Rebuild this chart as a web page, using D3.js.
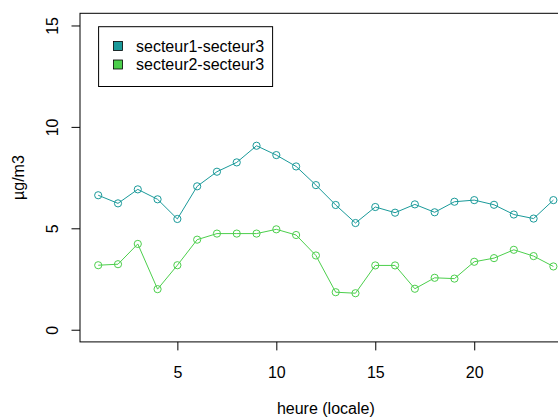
<!DOCTYPE html>
<html>
<head>
<meta charset="utf-8">
<script src="https://cdn.jsdelivr.net/npm/d3@7"></script>
<style>
  body { margin: 0; background: #fff; }
  svg { display: block; font-family: "Liberation Sans", Arial, sans-serif; }
</style>
</head>
<body>
<svg id="chart"></svg>
<script>
// heures (locale)
const heures = d3.range(1, 25)
const secteur13 = [6.63, 6.23, 6.92, 6.43, 5.46, 7.07, 7.79, 8.25, 9.07, 8.61, 8.05, 7.13,
                   6.15, 5.26, 6.05, 5.77, 6.18, 5.79, 6.31, 6.39, 6.16, 5.68, 5.48, 6.39]
const secteur23 = [3.18, 3.23, 4.23, 2.00, 3.18, 4.44, 4.74, 4.74, 4.74, 4.95, 4.67, 3.66,
                   1.85, 1.80, 3.17, 3.17, 2.02, 2.56, 2.52, 3.35, 3.53, 3.94, 3.63, 3.12]
const xTicks = [5, 10, 15, 20]
const yTicks = [0, 5, 10, 15]
const seriesNames = ["secteur1-secteur3", "secteur2-secteur3"]
const colors = ["#1A9A9A", "#4CCF4C"]

const width = 558, height = 419
const plot = { left: 80, right: 571.6, top: 13.3, bottom: 341.9 }

const svg = d3.select("#chart")
    .attr("width", width)
    .attr("height", height)
    .attr("viewBox", [0, 0, width, height])

// R style: 4% extension of the data range
const x = d3.scaleLinear()
    .domain([1 - 23 * 0.04, 24 + 23 * 0.04])
    .range([plot.left, plot.right])
const y = d3.scaleLinear()
    .domain([-15 * 0.04, 15 + 15 * 0.04])
    .range([plot.bottom, plot.top])

const line = d3.line()
    .x((d, i) => x(heures[i]))
    .y(d => y(d))

const series = [secteur13, secteur23]

series.forEach((s, k) => {
  svg.append("path")
      .attr("fill", "none")
      .attr("stroke", colors[k])
      .attr("stroke-width", 1)
      .attr("d", line(s))
  svg.append("g")
    .selectAll("circle")
    .data(s)
    .join("circle")
      .attr("cx", (d, i) => x(heures[i]))
      .attr("cy", d => y(d))
      .attr("r", 3.6)
      .attr("fill", "none")
      .attr("stroke", colors[k])
      .attr("stroke-width", 1)
})

// box
svg.append("rect")
    .attr("x", plot.left)
    .attr("y", plot.top)
    .attr("width", plot.right - plot.left)
    .attr("height", plot.bottom - plot.top)
    .attr("fill", "none")
    .attr("stroke", "#000")
    .attr("stroke-width", 1)

// x axis
svg.append("g")
    .attr("transform", `translate(0,${plot.bottom})`)
    .call(d3.axisBottom(x).tickValues(xTicks).tickSize(8.5).tickPadding(16))
    .call(g => g.select(".domain").remove())
    .call(g => g.selectAll("text").attr("font-size", 16).attr("font-family", null).attr("fill", "#000"))

// y axis
svg.append("g")
    .attr("transform", `translate(${plot.left},0)`)
    .call(d3.axisLeft(y).tickValues(yTicks).tickSize(8.5))
    .call(g => g.select(".domain").remove())
    .call(g => g.selectAll("text")
        .attr("font-size", 16)
        .attr("font-family", null)
        .attr("fill", "#000")
        .attr("x", null)
        .attr("text-anchor", "middle")
        .attr("transform", "translate(-27.5,0) rotate(-90)")
        .attr("y", 0)
        .attr("dy", "0.35em"))

svg.append("text")
    .attr("x", (plot.left + plot.right) / 2)
    .attr("y", 414)
    .attr("text-anchor", "middle")
    .attr("font-size", 16)
    .text("heure (locale)")

svg.append("text")
    .attr("transform", `translate(23.5,${(plot.top + plot.bottom) / 2}) rotate(-90)`)
    .attr("text-anchor", "middle")
    .attr("font-size", 16)
    .text("µg/m3")

// legend
const legend = svg.append("g")
legend.append("rect")
    .attr("x", 98.6).attr("y", 26.7)
    .attr("width", 174).attr("height", 59.8)
    .attr("fill", "#fff").attr("stroke", "#000")
seriesNames.forEach((name, k) => {
  const cy = 46 + k * 18.5
  legend.append("rect")
      .attr("x", 113.5).attr("y", cy - 4.5)
      .attr("width", 9).attr("height", 9)
      .attr("fill", colors[k]).attr("stroke", "#000").attr("stroke-width", 0.8)
  legend.append("text")
      .attr("x", 136).attr("y", cy)
      .attr("dy", "0.35em")
      .attr("font-size", 16)
      .text(name)
})
</script>
</body>
</html>
